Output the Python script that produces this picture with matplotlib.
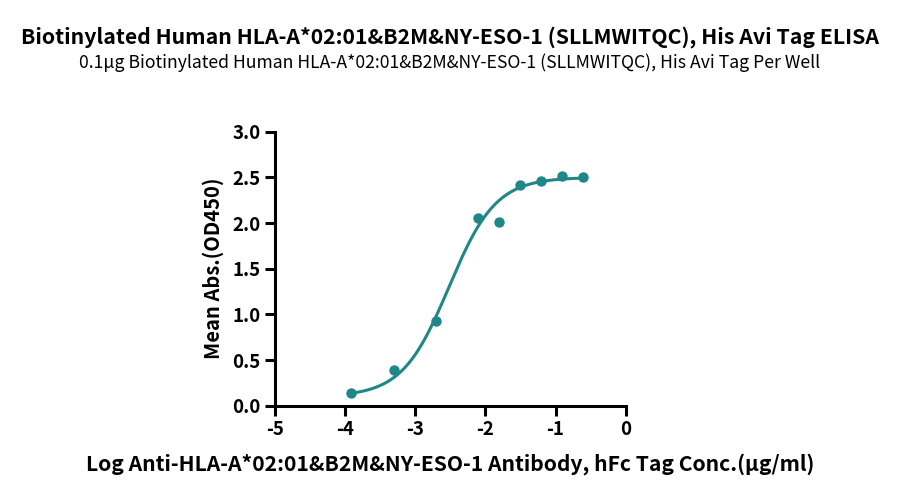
import matplotlib
matplotlib.use('Agg')
import matplotlib.pyplot as plt
import numpy as np

plt.rcParams['font.family'] = ['Noto Sans CJK SC', 'DejaVu Sans']
plt.rcParams['axes.unicode_minus'] = False

# measured points
log_conc = [-3.91, -3.31, -2.71, -2.11, -1.81, -1.51, -1.21, -0.91, -0.61]
mean_abs = [0.14, 0.39, 0.93, 2.05, 2.01, 2.42, 2.46, 2.51, 2.50]

# 4PL fit parameters
bottom, top, log_ec50, hill = 0.10, 2.50, -2.52, 1.30

teal = '#1f8787'

fig = plt.figure(figsize=(9, 4.97), dpi=100)
ax = fig.add_axes([0.3056, 0.1837, 0.3896, 0.5513])

xfit = np.linspace(min(log_conc), max(log_conc), 300)
yfit = bottom + (top - bottom) / (1 + 10 ** ((log_ec50 - xfit) * hill))
ax.plot(xfit, yfit, color=teal, lw=2.2)
ax.scatter(log_conc, mean_abs, color=teal, s=42, zorder=3)

ax.set_xlim(-5, 0)
ax.set_ylim(0, 3.0)
ax.set_xticks([-5, -4, -3, -2, -1, 0])
ax.set_yticks([0, 0.5, 1.0, 1.5, 2.0, 2.5, 3.0])
ax.set_yticklabels(['0.0', '0.5', '1.0', '1.5', '2.0', '2.5', '3.0'])
for s in ['top', 'right']:
    ax.spines[s].set_visible(False)
for s in ['left', 'bottom']:
    ax.spines[s].set_linewidth(2.2)
ax.tick_params(width=2.2, length=7, labelsize=13.5)
for lab in ax.get_xticklabels() + ax.get_yticklabels():
    lab.set_fontweight('bold')

ax.set_ylabel('Mean Abs.(OD450)', fontsize=14.5, fontweight='bold', labelpad=6)
fig.text(0.5, 0.066, 'Log Anti-HLA-A*02:01&B2M&NY-ESO-1 Antibody, hFc Tag Conc.(\u03bcg/ml)',
         ha='center', va='center', fontsize=15.2, fontweight='bold')

fig.text(0.5, 0.926, 'Biotinylated Human HLA-A*02:01&B2M&NY-ESO-1 (SLLMWITQC), His Avi Tag ELISA',
         ha='center', va='center', fontsize=15.3, fontweight='bold')
fig.text(0.5, 0.873, '0.1\u03bcg Biotinylated Human HLA-A*02:01&B2M&NY-ESO-1 (SLLMWITQC), His Avi Tag Per Well',
         ha='center', va='center', fontsize=12.7)

fig.savefig('out.png', dpi=100)
